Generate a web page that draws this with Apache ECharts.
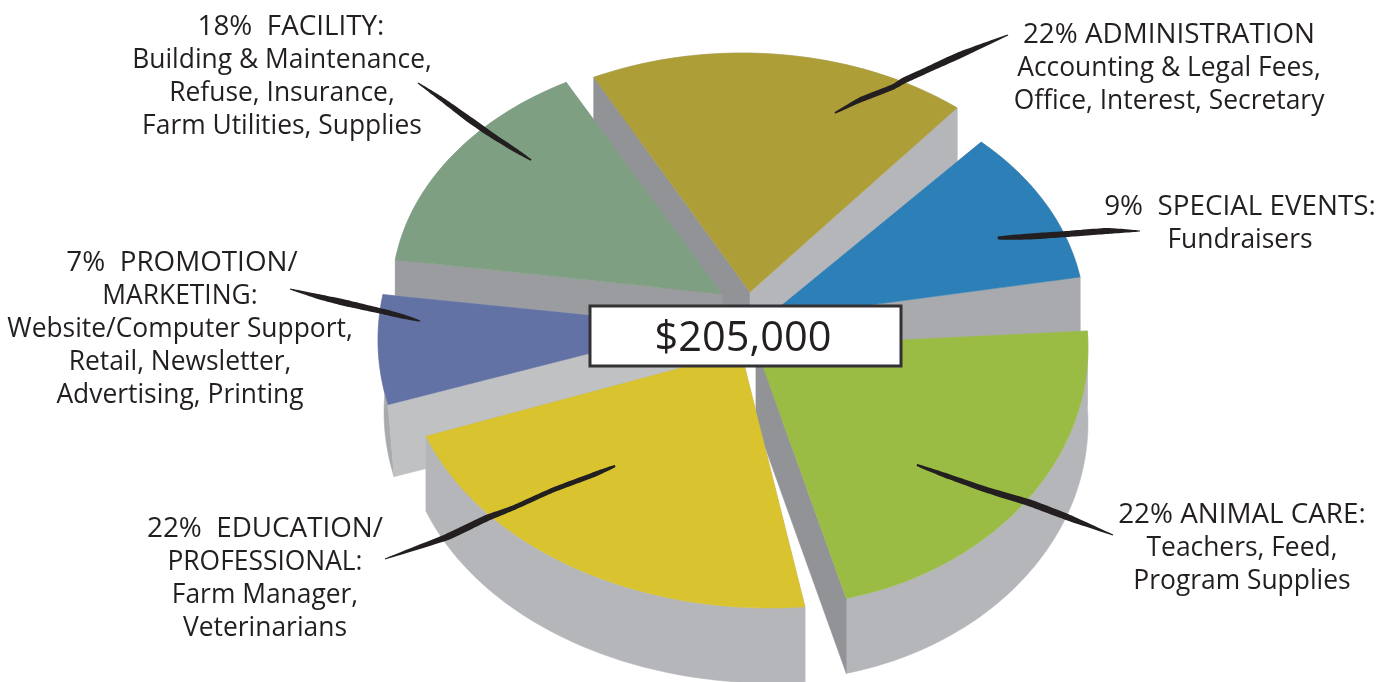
<!DOCTYPE html>
<html>
<head>
<meta charset="utf-8">
<title>$205,000 budget</title>
<script src="https://cdn.jsdelivr.net/npm/echarts@6/dist/echarts.min.js"></script>
<style>
html, body { margin: 0; padding: 0; background: #fff; }
#chart { width: 1388px; height: 682px; }
</style>
</head>
<body>
<div id="chart"></div>
<script>
// paint order, back slices first
var categories = ['ADMINISTRATION', 'SPECIAL EVENTS:', 'FACILITY:', 'PROMOTION/', 'EDUCATION/', 'ANIMAL CARE:'];
// the percentages printed on the labels
var percents = [22, 9, 18, 7, 22, 22];
// share of the ellipse each slice really covers in the picture, it does not follow the printed figures
var drawnShares = [18.2, 10.4, 14.9, 6.8, 21.1, 22.2];
var details = [
  ['Accounting & Legal Fees,', 'Office, Interest, Secretary'],
  ['Fundraisers'],
  ['Building & Maintenance,', 'Refuse, Insurance,', 'Farm Utilities, Supplies'],
  ['MARKETING:', 'Website/Computer Support,', 'Retail, Newsletter,', 'Advertising, Printing'],
  ['PROFESSIONAL:', 'Farm Manager,', 'Veterinarians'],
  ['Teachers, Feed,', 'Program Supplies']
];
var separators = [' ', '  ', '  ', '  ', '  ', ' '];
var totalLabel = '$205,000';

var topColors = ['#ad9e37', '#2c80b7', '#7f9f83', '#6272a4', '#d9c32e', '#9abc45'];
var startWalls = ['#929397', '#a9aaad', '#9b9c9f', '#c0c1c3', '#b5b6ba', '#b5b6ba'];
var endWalls = ['#b5b6ba', '#a9aaad', '#9b9c9f', '#c0c1c3', '#b5b6ba', '#929397'];
var outerWalls = ['#b5b6ba', '#a9aaad', '#9b9c9f', '#a9aaad', '#b5b6ba', '#b5b6ba'];

// exploded position of every slice: tip x,y and the ellipse its rim lies on
var sliceGeom = [
  { x: 750, y: 292, cx: 742, cy: 293, rx: 338, ry: 240, start: -116, depth: 75, shift: 0 },
  { x: 765, y: 319, cx: 765, cy: 319, rx: 320, ry: 240, start: -47.5, depth: 75, shift: 0 },
  { x: 722, y: 294, cx: 722, cy: 294, rx: 330, ry: 240, start: 188.2, depth: 75, shift: 0 },
  { x: 697, y: 326, cx: 698, cy: 340, rx: 320, ry: 260, start: 165.6, depth: 72, shift: 6 },
  { x: 741, y: 352, cx: 770, cy: 350, rx: 365, ry: 258, start: 84.5, depth: 75, shift: 0 },
  { x: 756, y: 347, cx: 770, cy: 348, rx: 318, ry: 258, start: -3.8, depth: 75, shift: 0 }
];

// label block: centre x and y of first line, first line has its own nudge
var labelPos = [[1169, 35], [1240, 207], [282, 27], [180, 263], [265, 529], [1242, 515]];
var firstLineDx = [0, 0, 9, 2, 0, 0];
var lineHeight = 33;

// ink strokes, x, y, half width
var leaders = [
  [[1008, 35, 0.5], [960, 55, 3.2], [927, 70, 3], [903, 81, 3], [893, 87, 2.6], [860, 100, 2.5], [835, 113, 0.8]],
  [[1140, 231, 0.5], [1107, 231, 3], [1067, 234, 3], [1030, 236.5, 3], [998, 238, 1.5]],
  [[418, 83, 0.5], [440, 98, 2], [470, 120, 3], [490, 134, 2.8], [515, 150, 2.2], [531, 160, 0.8]],
  [[290, 289, 0.5], [320, 297, 2.5], [350, 304, 3.2], [385, 312, 2.8], [405, 317, 2], [420, 321, 0.6]],
  [[385, 559, 0.5], [447, 537, 3.2], [487, 518, 3.2], [513, 508, 2.5], [553, 490, 2.5], [593, 475, 2.5], [615, 466, 1]],
  [[917, 465, 1], [950, 477, 2.5], [987, 490, 3], [1030, 503, 3.5], [1067, 517, 3.2], [1113, 535, 0.5]]
];

function pt(g, deg, drop, dx) {
  var t = deg * Math.PI / 180;
  return [g.cx + g.rx * Math.cos(t) + (dx || 0), g.cy + g.ry * Math.sin(t) + (drop || 0)];
}

function arc(g, a0, sweep, drop, dx) {
  var pts = [];
  var steps = 60;
  for (var i = 0; i <= steps; i++) {
    pts.push(pt(g, a0 + sweep * i / steps, drop, dx));
  }
  return pts;
}

function poly(points, color, z2) {
  return {
    type: 'polygon',
    z2: z2,
    shape: { points: points },
    style: { fill: color, stroke: color, lineWidth: 0.5 }
  };
}

function radialWall(g, p) {
  return [[g.x, g.y], p, [p[0] + g.shift, p[1] + g.depth], [g.x + g.shift, g.y + g.depth]];
}

function renderSlice(params, api) {
  var i = params.dataIndex;
  var g = sliceGeom[i];
  var sweep = api.value(1) * 3.6;
  var top = arc(g, g.start, sweep, 0, 0);
  var low = arc(g, g.start, sweep, g.depth, g.shift).reverse();
  return {
    type: 'group',
    children: [
      poly(top.concat(low), outerWalls[i], 1),
      poly(radialWall(g, top[0]), startWalls[i], 2),
      poly(radialWall(g, top[top.length - 1]), endWalls[i], 3),
      poly([[g.x, g.y]].concat(top), topColors[i], 4)
    ]
  };
}

function brush(points) {
  var left = [], right = [];
  for (var i = 0; i < points.length; i++) {
    var a = points[Math.max(i - 1, 0)], b = points[Math.min(i + 1, points.length - 1)];
    var dx = b[0] - a[0], dy = b[1] - a[1];
    var len = Math.sqrt(dx * dx + dy * dy);
    var nx = -dy / len * points[i][2], ny = dx / len * points[i][2];
    left.push([points[i][0] + nx, points[i][1] + ny]);
    right.unshift([points[i][0] - nx, points[i][1] - ny]);
  }
  return left.concat(right);
}

var graphics = [];
leaders.forEach(function (l) {
  graphics.push({
    type: 'polygon', z: 10, silent: true,
    shape: { points: brush(l), smooth: 0.15 },
    style: { fill: '#231f20' }
  });
});

categories.forEach(function (name, i) {
  var lines = [percents[i] + '%' + separators[i] + name].concat(details[i]);
  lines.forEach(function (line, j) {
    graphics.push({
      type: 'text', z: 11, silent: true,
      style: {
        text: line,
        x: labelPos[i][0] + (j === 0 ? firstLineDx[i] : 0),
        y: labelPos[i][1] + j * lineHeight,
        textAlign: 'center',
        textVerticalAlign: 'middle',
        font: (j === 0 ? '27.8px' : '26.4px') + ' "Open Sans"',
        fill: '#231f20'
      }
    });
  });
});

graphics.push({
  type: 'rect', z: 12, silent: true,
  shape: { x: 590, y: 306, width: 311, height: 60 },
  style: { fill: '#fff', stroke: '#333134', lineWidth: 3 }
});
graphics.push({
  type: 'text', z: 13, silent: true,
  style: {
    text: totalLabel,
    x: 743,
    y: 339,
    textAlign: 'center',
    textVerticalAlign: 'middle',
    font: '41.5px "Open Sans"',
    fill: '#231f20'
  }
});

var chart = echarts.init(document.getElementById('chart'), null, { renderer: 'canvas' });
chart.setOption({
  animation: false,
  backgroundColor: '#fff',
  series: [{
    type: 'custom',
    coordinateSystem: 'none',
    renderItem: renderSlice,
    data: percents.map(function (p, i) { return [p, drawnShares[i], categories[i]]; }),
    silent: true,
    z: 2
  }],
  graphic: { elements: graphics }
});
</script>
</body>
</html>
